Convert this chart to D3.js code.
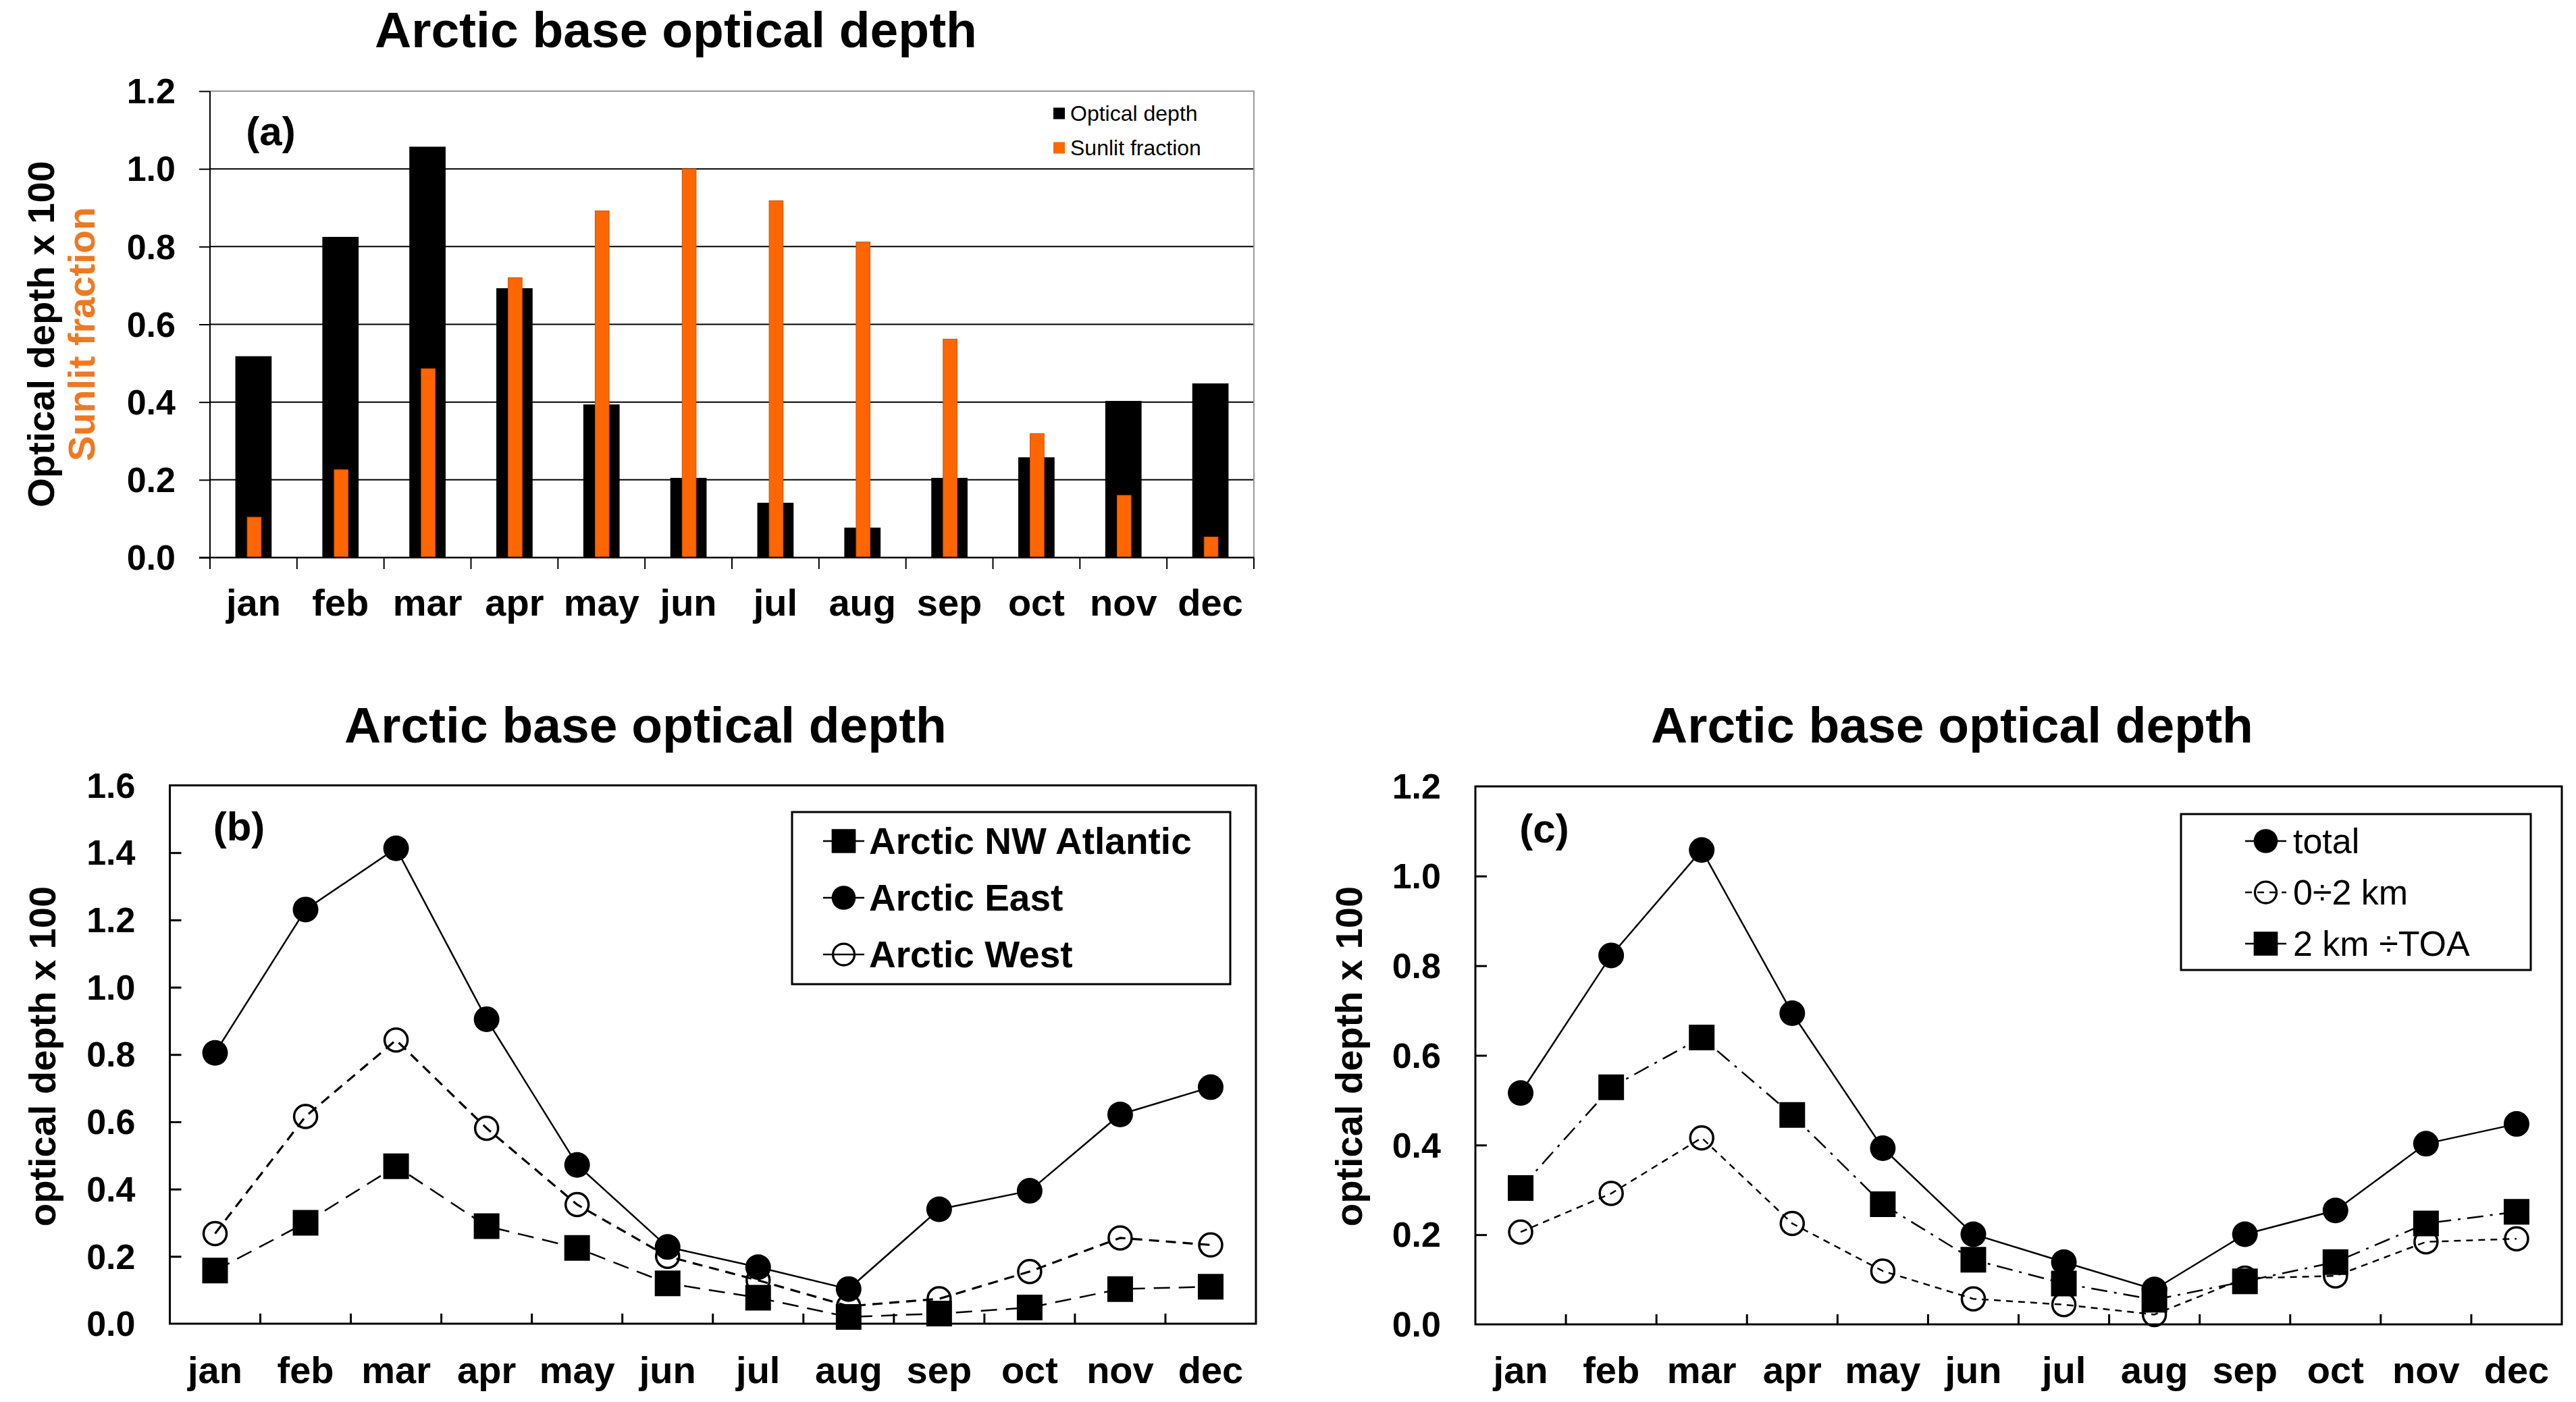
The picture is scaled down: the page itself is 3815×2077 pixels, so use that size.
<!DOCTYPE html>
<html>
<head>
<meta charset="utf-8">
<script src="https://cdn.jsdelivr.net/npm/d3@7"></script>
<style>
  html, body { margin: 0; padding: 0; background: #fff; }
  svg { display: block; font-family: "Liberation Sans", Arial, sans-serif; }
</style>
</head>
<body>
<div id="chart"></div>
<script>
// month categories, shared by all three panels
const months = ["jan", "feb", "mar", "apr", "may", "jun", "jul", "aug", "sep", "oct", "nov", "dec"];

// (a) bars
const opticalDepth = [0.518, 0.825, 1.057, 0.693, 0.394, 0.205, 0.141, 0.077, 0.205, 0.258, 0.403, 0.448];
const sunlitFraction = [0.104, 0.226, 0.486, 0.72, 0.892, 1.0, 0.918, 0.812, 0.562, 0.319, 0.16, 0.053];

// (b) regions
const arcticNWAtlantic = [0.158, 0.30, 0.468, 0.29, 0.225, 0.12, 0.077, 0.02, 0.03, 0.048, 0.103, 0.11];
const arcticEast = [0.805, 1.231, 1.413, 0.905, 0.472, 0.228, 0.168, 0.103, 0.34, 0.395, 0.622, 0.703];
const arcticWest = [0.268, 0.616, 0.843, 0.581, 0.354, 0.20, 0.129, 0.052, 0.074, 0.155, 0.255, 0.234];

// (c) layers
const totalDepth = [0.516, 0.823, 1.058, 0.694, 0.393, 0.201, 0.139, 0.078, 0.201, 0.254, 0.403, 0.447];
const lowLayer = [0.206, 0.292, 0.416, 0.225, 0.119, 0.057, 0.044, 0.022, 0.103, 0.108, 0.184, 0.191];
const highLayer = [0.304, 0.529, 0.640, 0.467, 0.268, 0.144, 0.091, 0.055, 0.096, 0.139, 0.225, 0.251];

// tick values
const yTicksA = [0, 0.2, 0.4, 0.6, 0.8, 1.0, 1.2];
const yTicksB = [0, 0.2, 0.4, 0.6, 0.8, 1.0, 1.2, 1.4, 1.6];
const yTicksC = [0, 0.2, 0.4, 0.6, 0.8, 1.0, 1.2];

const W = 3815, H = 2077;
const TITLE = "Arctic base optical depth";
const ORANGE = "#ff6600";

const svg = d3.select("#chart").append("svg")
  .attr("width", W)
  .attr("height", H);

svg.append("rect").attr("width", W).attr("height", H).attr("fill", "#fff");

const fmt = d3.format(".1f");

function title(x, y) {
  svg.append("text")
    .attr("x", x).attr("y", y)
    .attr("text-anchor", "middle")
    .style("font-size", "75px")
    .style("font-weight", "bold")
    .text(TITLE);
}

function panelLetter(x, y, s) {
  svg.append("text")
    .attr("x", x).attr("y", y)
    .attr("text-anchor", "middle")
    .style("font-size", "60px")
    .style("font-weight", "bold")
    .text(s);
}

function yLabel(g, cx, cy, s, color) {
  g.append("text")
    .attr("transform", `translate(${cx},${cy}) rotate(-90)`)
    .attr("text-anchor", "middle")
    .attr("dy", "0.35em")
    .style("font-size", "56px")
    .style("font-weight", "bold")
    .style("fill", color)
    .text(s);
}

function monthLabels(g, x, yBase) {
  g.selectAll(".mlab")
    .data(months)
    .enter().append("text")
      .attr("x", d => x(d) + x.bandwidth() / 2)
      .attr("y", yBase)
      .attr("text-anchor", "middle")
      .style("font-size", "56px")
      .style("font-weight", "bold")
      .text(d => d);
}

function yTickLabels(g, y, ticks, xRight) {
  g.selectAll(".ylab")
    .data(ticks)
    .enter().append("text")
      .attr("x", xRight)
      .attr("y", d => y(d))
      .attr("dy", "0.35em")
      .attr("text-anchor", "end")
      .style("font-size", "52px")
      .style("font-weight", "bold")
      .text(d => fmt(d));
}

// ---------------- panel (a) ----------------
(function () {
  const L = 311, R = 1857, T = 135, B = 826;
  const g = svg.append("g");
  const x = d3.scaleBand().domain(months).range([L, R]).padding(0);
  const y = d3.scaleLinear().domain([0, 1.2]).range([B, T]);

  // grid lines
  g.selectAll(".grid")
    .data(yTicksA.filter(d => d > 0 && d < 1.2))
    .enter().append("line")
      .attr("x1", L).attr("x2", R)
      .attr("y1", d => y(d)).attr("y2", d => y(d))
      .attr("stroke", "#000").attr("stroke-width", 2);

  // plot border top/right (grey)
  g.append("path")
    .attr("d", `M${L},${y(1.2)}H${R}V${B}`)
    .attr("fill", "none").attr("stroke", "#999").attr("stroke-width", 2);

  // bars
  const bwBlack = x.bandwidth() * 0.417;
  const bwOrange = x.bandwidth() * 0.16;
  g.selectAll(".bar-od")
    .data(months)
    .enter().append("rect")
      .attr("x", (d, i) => x(d) + (x.bandwidth() - bwBlack) / 2)
      .attr("width", bwBlack)
      .attr("y", (d, i) => y(opticalDepth[i]))
      .attr("height", (d, i) => B - y(opticalDepth[i]))
      .attr("fill", "#000");
  g.selectAll(".bar-sun")
    .data(months)
    .enter().append("rect")
      .attr("x", (d, i) => x(d) + (x.bandwidth() - bwOrange) / 2 + 1)
      .attr("width", bwOrange)
      .attr("y", (d, i) => y(sunlitFraction[i]))
      .attr("height", (d, i) => B - y(sunlitFraction[i]))
      .attr("fill", ORANGE)
      .attr("stroke", "#c85000").attr("stroke-width", 1);

  // axes
  g.append("g")
    .attr("transform", `translate(${L},0)`)
    .call(d3.axisLeft(y).tickValues(yTicksA).tickSize(16).tickFormat(""))
    .call(a => a.select(".domain").remove())
    .call(a => a.selectAll(".tick line").attr("stroke-width", 2));
  g.append("line").attr("x1", L).attr("x2", L).attr("y1", T).attr("y2", B)
    .attr("stroke", "#000").attr("stroke-width", 2);
  g.append("line").attr("x1", L - 16).attr("x2", R).attr("y1", B).attr("y2", B)
    .attr("stroke", "#000").attr("stroke-width", 2.5);
  // category boundary ticks
  g.selectAll(".xt")
    .data(months.concat(["end"]))
    .enter().append("line")
      .attr("x1", (d, i) => L + i * x.bandwidth())
      .attr("x2", (d, i) => L + i * x.bandwidth())
      .attr("y1", B).attr("y2", B + 17)
      .attr("stroke", "#000").attr("stroke-width", 2);

  yTickLabels(g, y, yTicksA, L - 51);
  monthLabels(g, x, 912);

  // legend
  const lg = g.append("g");
  const items = [["Optical depth", "#000", 168], ["Sunlit fraction", ORANGE, 219]];
  items.forEach(([txt, col, cy]) => {
    lg.append("rect").attr("x", 1560).attr("y", cy - 8.5).attr("width", 17).attr("height", 17).attr("fill", col);
    lg.append("text").attr("x", 1585).attr("y", cy).attr("dy", "0.35em")
      .style("font-size", "32px").text(txt);
  });

  yLabel(g, 60, 495, "Optical depth x 100", "#000");
  yLabel(g, 120, 495, "Sunlit fraction", "#f07820");
  title(1001, 70);
  panelLetter(401, 215, "(a)");
})();

// ---------------- line panels (b) and (c) ----------------
const symCircle = d3.symbol(d3.symbolCircle, Math.PI * 19 * 19);
const symSquare = d3.symbol(d3.symbolSquare, 38 * 38);

function drawMarker(g, cx, cy, type, scale) {
  const k = scale || 1;
  const p = g.append("path")
    .attr("transform", `translate(${cx},${cy}) scale(${k})`);
  if (type === "square") {
    p.attr("d", symSquare()).attr("fill", "#000");
  } else if (type === "circle") {
    p.attr("d", symCircle()).attr("fill", "#000");
  } else {
    p.attr("d", d3.symbol(d3.symbolCircle, Math.PI * 17 * 17)())
      .attr("fill", "none").attr("stroke", "#000").attr("stroke-width", 3.5);
  }
}

function linePanel(opt) {
  const { L, R, T, B, yMax, ticks, series, legend } = opt;
  const g = svg.append("g");
  const x = d3.scaleBand().domain(months).range([L, R]).padding(0);
  const y = d3.scaleLinear().domain([0, yMax]).range([B, T]);
  const cx = d => x(d) + x.bandwidth() / 2;

  // frame
  g.append("rect").attr("x", L).attr("y", T).attr("width", R - L).attr("height", B - T)
    .attr("fill", "none").attr("stroke", "#000").attr("stroke-width", 3);

  // inward y ticks
  g.append("g")
    .attr("transform", `translate(${L},0)`)
    .call(d3.axisRight(y).tickValues(ticks.filter(d => d > 0 && d < yMax)).tickSize(17).tickFormat(""))
    .call(a => a.select(".domain").remove())
    .call(a => a.selectAll(".tick line").attr("stroke-width", 3));
  // inward x ticks at category boundaries
  g.selectAll(".xt")
    .data(months.slice(1))
    .enter().append("line")
      .attr("x1", d => x(d)).attr("x2", d => x(d))
      .attr("y1", B).attr("y2", B - 15)
      .attr("stroke", "#000").attr("stroke-width", 3);

  yTickLabels(g, y, ticks, L - 51);
  monthLabels(g, x, 2049);

  const line = d3.line().x(d => cx(d.m)).y(d => y(d.v));
  series.forEach(s => {
    const pts = months.map((m, i) => ({ m, v: s.values[i] }));
    g.append("path")
      .datum(pts)
      .attr("fill", "none")
      .attr("stroke", "#000")
      .attr("stroke-width", s.width)
      .attr("stroke-dasharray", s.dash)
      .attr("d", line);
  });
  series.forEach(s => {
    months.forEach((m, i) => drawMarker(g, cx(m), y(s.values[i]), s.marker));
  });

  // legend
  const lg = g.append("g");
  lg.append("rect")
    .attr("x", legend.x).attr("y", legend.y)
    .attr("width", legend.w).attr("height", legend.h)
    .attr("fill", "#fff").attr("stroke", "#000").attr("stroke-width", 3);
  legend.order.forEach((si, k) => {
    const s = series[si];
    const yy = legend.y + legend.first + k * legend.step;
    lg.append("line")
      .attr("x1", legend.x + legend.lx0).attr("x2", legend.x + legend.lx1)
      .attr("y1", yy).attr("y2", yy)
      .attr("stroke", "#000").attr("stroke-width", 2.5)
      .attr("stroke-dasharray", legend.dashed ? s.dash : null);
    drawMarker(lg, legend.x + (legend.lx0 + legend.lx1) / 2, yy, s.marker, 0.94);
    lg.append("text")
      .attr("x", legend.x + legend.tx).attr("y", yy).attr("dy", "0.35em")
      .style("font-size", legend.fontSize)
      .style("font-weight", legend.weight)
      .text(s.name);
  });
  return g;
}

// (b)
const gB = linePanel({
  L: 251.5, R: 1860, T: 1163.5, B: 1961, yMax: 1.6, ticks: yTicksB,
  series: [
    { name: "Arctic NW Atlantic", values: arcticNWAtlantic, marker: "square", dash: "24,13", width: 2.5 },
    { name: "Arctic East", values: arcticEast, marker: "circle", dash: null, width: 2.5 },
    { name: "Arctic West", values: arcticWest, marker: "open", dash: "15,10", width: 3.2 }
  ],
  legend: {
    x: 1173, y: 1203, w: 649, h: 255, first: 43, step: 84,
    lx0: 46, lx1: 107, tx: 114, fontSize: "55px", weight: "bold", order: [0, 1, 2], dashed: false
  }
});
yLabel(gB, 62, 1565, "optical depth x 100", "#000");
title(956, 1100);
panelLetter(354, 1245, "(b)");

// (c)
const gC = linePanel({
  L: 2185, R: 3794, T: 1165, B: 1962, yMax: 1.2, ticks: yTicksC,
  series: [
    { name: "total", values: totalDepth, marker: "circle", dash: null, width: 2.5 },
    { name: "0\u00f72 km", values: lowLayer, marker: "open", dash: "10,8", width: 2.5 },
    { name: "2 km \u00f7TOA", values: highLayer, marker: "square", dash: "24,10,4,10", width: 2.5 }
  ],
  legend: {
    x: 3230, y: 1206, w: 518, h: 231, first: 40, step: 76,
    lx0: 95, lx1: 156, tx: 166, fontSize: "52px", weight: "normal", order: [0, 1, 2], dashed: true
  }
});
yLabel(gC, 1997, 1565, "optical depth x 100", "#000");
title(2891, 1100);
panelLetter(2287, 1248, "(c)");
</script>
</body>
</html>
